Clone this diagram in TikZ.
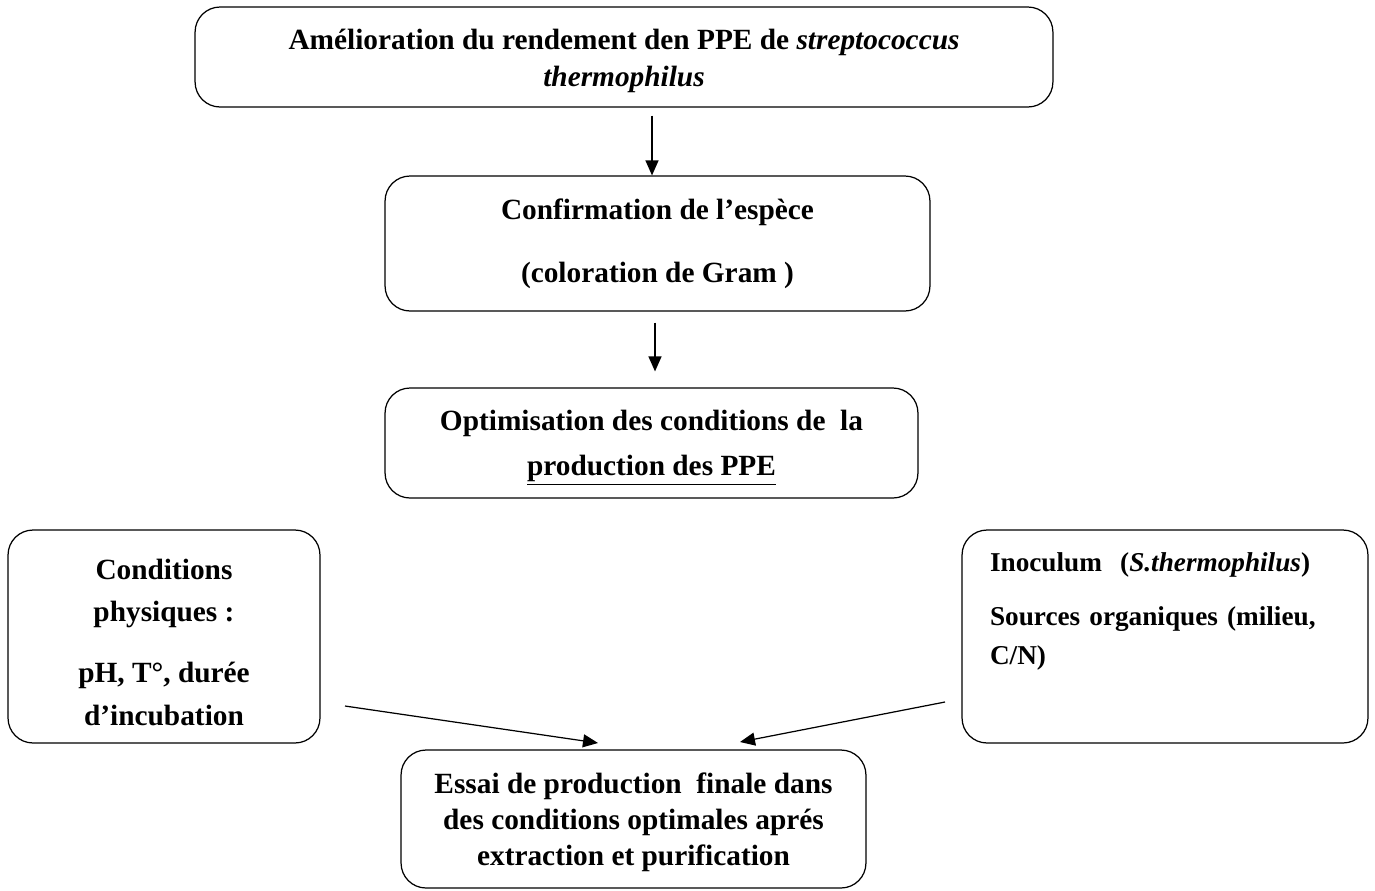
\documentclass[tikz,border=0pt]{standalone}
\usepackage{fontspec}
\setmainfont{Liberation Serif}
\usepackage{tikz}
\usetikzlibrary{arrows.meta,positioning,calc}

\tikzset{
  stagebox/.style={draw, line width=0.7pt, rounded corners=0.5cm, align=center,
    font=\fontsize{16.7}{20.5}\selectfont\bfseries, inner sep=2pt},
  flowarrow/.style={-{Triangle[length=3mm,width=2.6mm]}, line width=0.7pt}
}

\begin{document}
\begin{tikzpicture}[x=0.02cm,y=-0.02cm]
\useasboundingbox (0,0) rectangle (1375,890);
% boxes
\node[stagebox, minimum width=17.16cm, minimum height=2.0cm] (goal) at (624,57)
  {\rule{0pt}{16pt}Amélioration du rendement den PPE de \textit{streptococcus}\\[1pt] \textit{thermophilus}};
\node[stagebox, minimum width=10.9cm, minimum height=2.7cm] (gram) at (657.5,243.5)
  {Confirmation de l’espèce\\[15.5pt] (coloration de Gram )};
\node[stagebox, minimum width=10.66cm, minimum height=2.2cm] (optim) at (651.5,443)
  {\rule{0pt}{17pt}Optimisation des conditions de\ \ la\\[5.5pt] \underline{production des PPE}};
\node[stagebox, minimum width=6.24cm, minimum height=4.26cm] (phys) at (164,636.5)
  {\rule{0pt}{18pt}Conditions\\[3.5pt] physiques :\\[14.5pt] pH, T°, durée\\[3.5pt] d’incubation};
\node[stagebox, minimum width=8.12cm, minimum height=4.26cm, text width=7.0cm,
  align=left, font=\fontsize{15.5}{20.5}\selectfont\bfseries] (orga) at (1165,636.5)
  {Inoculum\ \ (\textit{S.thermophilus})\\[10pt] Sources organiques (milieu,\\[1.5pt] C/N)\\[11.4pt]\mbox{}};
\node[stagebox, minimum width=9.3cm, minimum height=2.76cm] (final) at (633.5,819)
  {\rule{0pt}{15pt}Essai de production\ \ finale dans\\ des conditions optimales aprés\\ extraction et purification};
% connectors
\coordinate (c1) at (652,0);
\coordinate (c2) at (655,0);
\draw[flowarrow, shorten <=0.16cm] (goal.south -| c1) -- (gram.north -| c1);
\draw[flowarrow, shorten <=0.22cm, shorten >=0.32cm] (gram.south -| c2) -- (optim.north -| c2);
\coordinate (p1) at (345,706);
\coordinate (q1) at (598,743);
\coordinate (p2) at (945,702);
\coordinate (q2) at (740,742);
\draw[flowarrow] (p1) -- (q1);
\draw[flowarrow] (p2) -- (q2);
\end{tikzpicture}
\end{document}
